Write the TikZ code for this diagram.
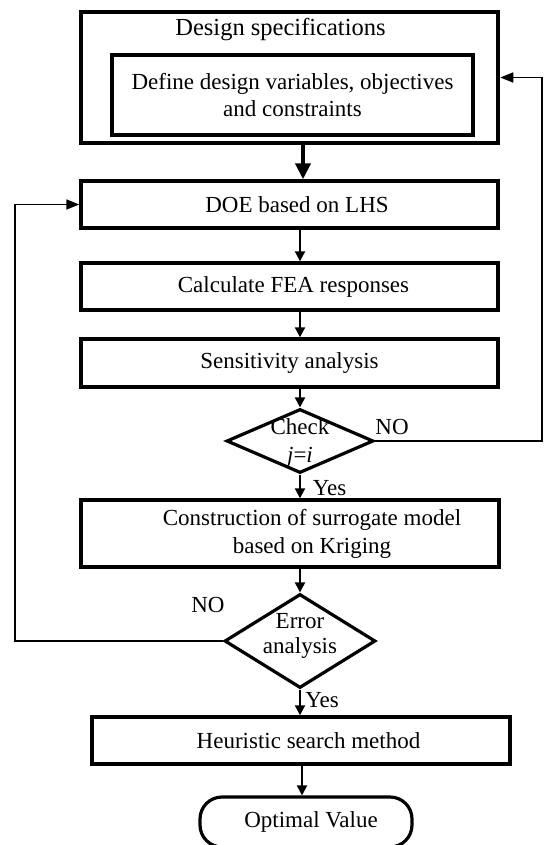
\documentclass[tikz,border=0pt]{standalone}
\usepackage{fontspec}
\setmainfont{Liberation Serif}
\usetikzlibrary{shapes.geometric,arrows.meta}
\begin{document}
\begin{tikzpicture}[x=1pt,y=-1pt,
 txt/.style={font=\fontsize{23}{28}\selectfont, inner sep=0pt, align=center},
 box/.style={draw, line width=3.4pt, minimum width=417pt, minimum height=47pt, inner sep=0pt, txt},
 dia/.style={draw, diamond, line width=3.2pt, inner sep=0pt},
 arr/.style={line width=2pt, -{Triangle[length=10pt,width=10pt]}},
 bigarr/.style={line width=4pt, -{Triangle[length=16pt,width=15pt]}},
 fb/.style={line width=1.7pt, -{Triangle[length=13pt,width=10pt]}}]
\useasboundingbox (0,0) rectangle (544,845);
% boxes
\node[box, line width=4.6pt, minimum width=417pt, minimum height=131pt] (outer) at (289.5,77.5) {};
\node[txt, font=\fontsize{24.5}{28}\selectfont] (title) at (280.5,30) {Design specifications};
\node[box, line width=3.2pt, minimum width=361pt, minimum height=80pt, font=\fontsize{23}{26.5}\selectfont] (inner) at (292.5,95) {Define design variables, objectives\\and constraints};
\node[box] (doe) at (289.5,204.5) {\hspace*{15pt}DOE based on LHS};
\node[box] (calc) at (289.5,286.5) {\hspace*{8pt}Calculate FEA responses};
\node[box, minimum height=48pt] (sens) at (289.5,363) {Sensitivity analysis};
\node[dia, minimum width=147pt, minimum height=64pt] (check) at (300,441) {};
\node[txt] (checkt) at (300,443) {Check\\\textit{j}=\textit{i}};
\node[box, minimum width=418pt, minimum height=67pt] (cons) at (290,533.5) {\hspace*{44pt}Construction of surrogate model\\\hspace*{44pt}based on Kriging};
\node[dia, minimum width=151pt, minimum height=94pt] (err) at (300,641) {};
\node[txt, font=\fontsize{23}{25}\selectfont] (errt) at (300,635.5) {Error\\analysis};
\node[box, minimum width=418pt, minimum height=47pt] (heur) at (301,740.5) {\hspace*{15pt}Heuristic search method};
\node[draw, line width=3.2pt, rounded corners=22pt, minimum width=212pt, minimum height=50pt, txt] (opt) at (306,822) {\hspace*{10pt}Optimal Value};
% labels
\node[txt] (no1) at (392,427) {NO};
\node[txt] (no2) at (208,605) {NO};
\node[txt] (yes1) at (329.5,488) {Yes};
\node[txt] (yes2) at (322,700) {Yes};
% connectors
\coordinate (rt) at (542,441);
\coordinate (lf) at (15,641);
\draw[bigarr] ([xshift=13.5pt]outer.south) -- ([xshift=13.5pt]doe.north);
\draw[arr] (doe.south -| check.north) -- (calc.north -| check.north);
\draw[arr] (calc.south -| check.north) -- (sens.north -| check.north);
\draw[arr] (sens.south -| check.north) -- (check.north);
\draw[arr] (check.south) -- (cons.north -| check.south);
\draw[arr] (cons.south -| check.north) -- (err.north);
\draw[arr] (err.south) -- (heur.north -| err.south);
\draw[arr] ([xshift=2pt]heur.south -| err.south) -- ([xshift=2pt]opt.north -| err.south);
\draw[fb] (check.east) -- (rt) |- (outer.east);
\draw[fb] (err.west) -- (lf) |- (doe.west);
\end{tikzpicture}
\end{document}
